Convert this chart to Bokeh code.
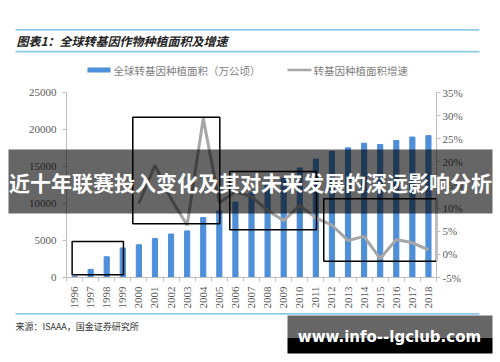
import math
from bokeh.plotting import figure
from bokeh.models import Range1d, LinearAxis, FixedTicker, PrintfTickFormatter
from bokeh.core.properties import value
from bokeh.embed import file_html
from bokeh.resources import INLINE

# ---------------- data ----------------
years = ["1996", "1997", "1998", "1999", "2000", "2001", "2002", "2003", "2004",
         "2005", "2006", "2007", "2008", "2009", "2010", "2011", "2012", "2013",
         "2014", "2015", "2016", "2017", "2018"]
area = [170, 1100, 2800, 3990, 4420, 5260, 5870, 6300, 8100, 9000, 10200, 11430,
        12500, 13400, 14800, 16000, 17030, 17520, 18150, 17970, 18510, 18980, 19170]
growth_years = ["2000", "2001", "2002", "2003", "2004", "2005", "2006", "2007",
                "2008", "2009", "2010", "2011", "2012", "2013", "2014", "2015",
                "2016", "2017", "2018"]
growth = [11.0, 19.3, 12.0, 6.3, 29.4, 11.2, 13.5, 12.5, 9.5, 7.3, 10.6, 7.9,
          6.3, 3.0, 3.9, -0.9, 3.2, 2.5, 1.0]
left_ticks = [0, 5000, 10000, 15000, 20000, 25000]
right_ticks = [-5, 0, 5, 10, 15, 20, 25, 30, 35]
# highlight boxes: (left edge, right edge in year slots, low value, high value)
boxes_l = [-0.15, 3.62, 9.65, 15.49]
boxes_r = [3.04, 9.03, 15.04, 22.5]
boxes_b = [365, 7260, 6450, 2200]
boxes_t = [4865, 21660, 14320, 10630]

title = "图表1：全球转基因作物种植面积及增速"
legend1 = "全球转基因种植面积（万公顷）"
legend2 = "转基因种植面积增速"
source = "来源：ISAAA，国金证券研究所"
banner = "近十年联赛投入变化及其对未来发展的深远影响分析"
watermark = "www.info--lgclub.com"

# ---------------- layout ----------------
W, H = 500, 362
FL, FR, FT, FB = 66, 436, 92, 277   # chart area in canvas pixels
n = len(years)
X0, X1 = -0.5, n - 0.5
Y0, Y1 = 0, 25000
P0, P1 = -5, 35

def span(v0, v1, p0, p1, c0, c1):
    """range so that value v0 sits at pixel p0 and v1 at p1 on a canvas c0..c1"""
    k = (v1 - v0) / (p1 - p0)
    return Range1d(v0 - (p0 - c0) * k, v1 + (c1 - p1) * k)

xr = span(X0, X1, FL, FR, 0, W)
yr = span(Y0, Y1, H - FB, H - FT, 0, H)
pr = span(P0, P1, H - FB, H - FT, 0, H)

p = figure(width=W, height=H, output_backend="svg", toolbar_location=None,
           x_range=xr, y_range=yr, x_axis_location=None, y_axis_location=None)
p.min_border = 0
p.min_border_left = 0
p.min_border_right = 0
p.min_border_top = 0
p.min_border_bottom = 0
p.outline_line_color = None
p.grid.visible = False
p.background_fill_color = "white"
p.border_fill_color = "white"
p.extra_y_ranges = {"pct": pr, "py": Range1d(H, 0)}
p.extra_x_ranges = {"px": Range1d(0, W)}

axis_color = "#BFBFBF"
label_color = "#595959"
serif = "Liberation Serif"

def style(ax, standoff):
    ax.axis_line_color = axis_color
    ax.major_label_text_font = serif
    ax.major_label_text_font_size = "11px"
    ax.major_label_text_color = label_color
    ax.major_label_standoff = standoff

# left axis
la = LinearAxis(ticker=FixedTicker(ticks=left_ticks), fixed_location=X0,
                bounds=(Y0, Y1))
style(la, 6)
la.major_tick_line_color = axis_color
la.major_tick_out = 4
la.major_tick_in = 0
la.minor_tick_line_color = None
p.add_layout(la, "left")

# right axis
ra = LinearAxis(y_range_name="pct", ticker=FixedTicker(ticks=right_ticks),
                formatter=PrintfTickFormatter(format="%d%%"), fixed_location=X1,
                bounds=(P0, P1))
style(ra, 2)
ra.major_tick_line_color = axis_color
ra.major_tick_out = 4
ra.major_tick_in = 0
ra.minor_tick_line_color = None
p.add_layout(ra, "right")

# bottom axis
xpos = {y: i for i, y in enumerate(years)}
bx = [xpos[y] for y in years]
gx = [xpos[y] for y in growth_years]
edges = [i - 0.5 for i in range(n + 1)]
ba = LinearAxis(ticker=FixedTicker(ticks=bx, minor_ticks=edges), fixed_location=Y0,
                bounds=(X0, X1))
ba.major_label_overrides = {xpos[y]: y for y in years}
style(ba, 5)
ba.major_tick_line_color = None
ba.major_tick_out = 0
ba.major_tick_in = 0
ba.minor_tick_line_color = axis_color
ba.minor_tick_out = 4
ba.minor_tick_in = 0
ba.major_label_orientation = math.pi / 2
p.add_layout(ba, "below")

# bars and line
p.vbar(x=bx, top=area, width=0.32, color="#4E8FD9")
p.line(x=gx, y=growth, y_range_name="pct", line_color="#A6A6A6", line_width=3)

# highlight boxes
p.quad(left=boxes_l, right=boxes_r, bottom=boxes_b, top=boxes_t,
       fill_color=None, line_color="black", line_width=1.5)

# ---------------- decorations (canvas pixel coordinates) ----------------
cjk = "Noto Sans CJK SC"
rule = "#8DCBEA"
dec = dict(x_range_name="px", y_range_name="py")

p.quad(left=[15, 15, 15], right=[479, 479, 479], top=[28.5, 50.2, 312.5],
       bottom=[30.2, 51.9, 314.2], fill_color=rule, line_color=None, **dec)
p.text(x=[16], y=[39.5], text=[title], text_font=value(cjk), text_font_size="12px",
       text_font_style="bold italic", text_color="#222222",
       text_baseline="middle", text_align="left", **dec)

# legend
p.quad(left=[87], right=[110], top=[67], bottom=[72], fill_color="#4E8FD9",
       line_color=None, **dec)
p.quad(left=[287], right=[311], top=[68.3], bottom=[70.8], fill_color="#A6A6A6",
       line_color=None, **dec)
p.text(x=[113, 313], y=[69.5, 69.5], text=[legend1, legend2], text_font=value(cjk),
       text_font_size="10.5px", text_color="#7F7F7F", text_baseline="middle",
       text_align="left", **dec)

# source
p.text(x=[15], y=[326], text=[source], text_font=value(cjk), text_font_size="9px",
       text_color="#333333", text_baseline="middle", text_align="left", **dec)

# banner overlay
r = p.quad(left=[8], right=[492], top=[149], bottom=[213], fill_color="black",
           fill_alpha=0.6, line_color=None, **dec)
r.level = "overlay"
r = p.text(x=[250], y=[181], text=[banner], text_font=value(cjk),
           text_font_size="21px", text_font_style="bold", text_color="white",
           text_baseline="middle", text_align="center", **dec)
r.level = "overlay"

# watermark
r = p.quad(left=[287, 287], right=[492, 492], top=[315, 337.3], bottom=[337.3, 353],
           fill_color=["#666666", "black"], line_color=None, **dec)
r.level = "overlay"
r = p.text(x=[389], y=[336], text=[watermark], text_font=value("DejaVu Sans"),
           text_font_size="15px", text_font_style="bold", text_color="white",
           text_baseline="middle", text_align="center", **dec)
r.level = "overlay"

open("out.html", "w").write(file_html(p, INLINE))
